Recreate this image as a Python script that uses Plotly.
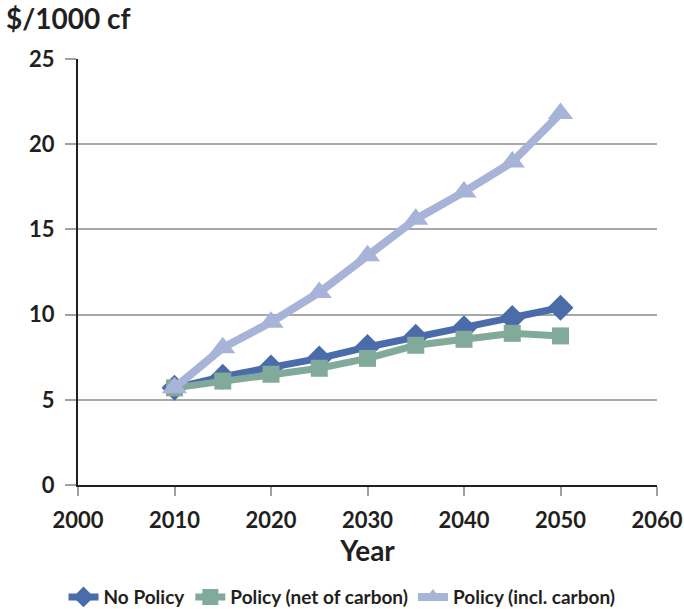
import plotly.graph_objects as go

years = [2010, 2015, 2020, 2025, 2030, 2035, 2040, 2045, 2050]
no_policy = [5.7, 6.36, 6.9, 7.43, 8.1, 8.7, 9.2, 9.8, 10.4]
policy_net = [5.7, 6.1, 6.5, 6.85, 7.43, 8.2, 8.55, 8.9, 8.75]
policy_incl = [5.7, 8.05, 9.55, 11.3, 13.45, 15.6, 17.2, 18.95, 21.8]
x_ticks = [2000, 2010, 2020, 2030, 2040, 2050, 2060]
y_ticks = [0, 5, 10, 15, 20, 25]

FONT = "Lato"
fig = go.Figure()
fig.add_trace(go.Scatter(x=years, y=no_policy, name="No Policy", mode="lines+markers",
                         line=dict(color="#4A6CAA", width=7),
                         marker=dict(symbol="diamond", size=20, color="#4A6CAA")))
fig.add_trace(go.Scatter(x=years, y=policy_net, name="Policy (net of carbon)", mode="lines+markers",
                         line=dict(color="#82AA9A", width=7),
                         marker=dict(symbol="square", size=17, color="#82AA9A")))
fig.add_trace(go.Scatter(x=years, y=policy_incl, name="Policy (incl. carbon)", mode="lines+markers",
                         line=dict(color="#A7B4D8", width=8),
                         marker=dict(symbol="triangle-up", size=22, color="#A7B4D8")))

fig.update_layout(
    width=684, height=609,
    margin=dict(l=78, r=27, t=59, b=124, autoexpand=False),
    paper_bgcolor="white", plot_bgcolor="white",
    font=dict(family=FONT, size=22, color="#231F20", weight="bold"),
    showlegend=True,
    legend=dict(orientation="h", xref="container", yref="paper",
                x=0.5, xanchor="center", y=-0.263, yanchor="middle",
                font=dict(size=19, family=FONT, weight="bold"), traceorder="normal",
                itemwidth=30, tracegroupgap=0),
    annotations=[dict(text="$/1000 cf", xref="paper", yref="paper", x=-0.127, y=1.097,
                      xanchor="left", yanchor="middle", showarrow=False,
                      font=dict(size=28, family=FONT, weight="bold"))],
)
fig.update_xaxes(range=[2000, 2060], tickvals=x_ticks, showgrid=False,
                 showline=True, linecolor="#231F20", linewidth=2,
                 ticks="outside", ticklen=9, tickcolor="#A0A0A0", tickwidth=2,
                 tickfont=dict(size=22), zeroline=False, automargin=False, ticklabelstandoff=6,
                 title=dict(text="Year", font=dict(size=28, weight="bold"), standoff=8))
fig.update_yaxes(range=[0, 25], tickvals=y_ticks, showgrid=True, gridcolor="#A8A8A8", gridwidth=1.5,
                 showline=True, linecolor="#231F20", linewidth=2,
                 ticks="outside", ticklen=11, tickcolor="#A0A0A0", tickwidth=2,
                 tickfont=dict(size=22), zeroline=False, ticklabelstandoff=6, automargin=False)

fig.write_html("out.html", config={"displayModeBar": False},
               post_script="document.body.style.margin='0';document.body.style.overflow='hidden';")
